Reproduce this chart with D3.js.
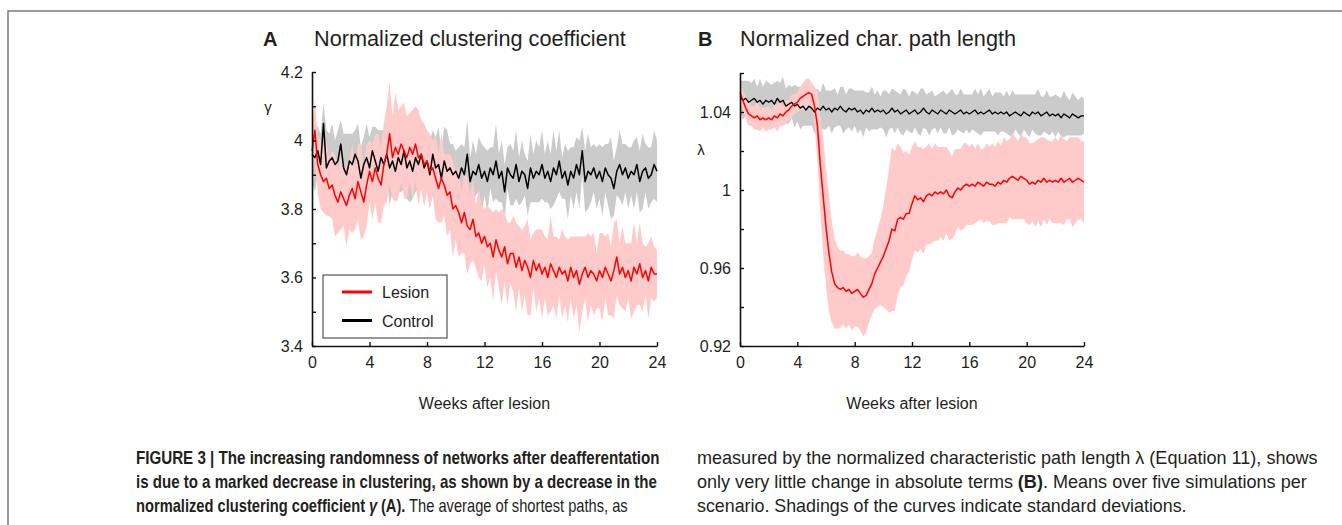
<!DOCTYPE html>
<html><head><meta charset="utf-8">
<script src="https://cdn.jsdelivr.net/npm/d3@7"></script>
<style>
html,body{margin:0;padding:0;background:#fff;}
svg{display:block;font-family:"Liberation Sans",Arial,Helvetica,sans-serif;}
</style></head><body>
<svg id="fig" width="1342" height="525"></svg>
<script>
// Sampling interval of the simulated time series (weeks)
const STEP = 0.2;

// x axis
const weekTicks = [0, 4, 8, 12, 16, 20, 24];

// Panel A: normalized clustering coefficient (gamma)
const gammaTicks = [3.4, 3.5, 3.6, 3.7, 3.8, 3.9, 4.0, 4.1, 4.2];
const gammaTickLabels = ["3.4", "", "3.6", "", "3.8", "", "4", "", "4.2"];

const lesionGammaMean = [
  3.97, 4.03, 3.93, 3.90, 3.88, 3.89, 3.86, 3.87, 3.84, 3.82,
  3.85, 3.83, 3.81, 3.84, 3.86, 3.83, 3.88, 3.85, 3.82, 3.87,
  3.91, 3.88, 3.92, 3.89, 3.87, 3.93, 3.96, 4.02, 3.95, 3.98,
  3.96, 3.99, 3.97, 3.95, 3.98, 3.96, 3.99, 3.95, 3.96, 3.93,
  3.94, 3.91, 3.92, 3.89, 3.86, 3.89, 3.87, 3.84, 3.85, 3.80,
  3.81, 3.79, 3.76, 3.79, 3.75, 3.74, 3.77, 3.72, 3.73, 3.70,
  3.72, 3.69, 3.70, 3.66, 3.71, 3.68, 3.66, 3.69, 3.64, 3.67,
  3.67, 3.63, 3.66, 3.62, 3.65, 3.63, 3.60, 3.65, 3.62, 3.64,
  3.61, 3.63, 3.60, 3.64, 3.62, 3.60, 3.63, 3.61, 3.62, 3.59,
  3.63, 3.60, 3.62, 3.58, 3.61, 3.63, 3.60, 3.62, 3.61, 3.59,
  3.62, 3.60, 3.63, 3.61, 3.59, 3.62, 3.66, 3.61, 3.63, 3.60,
  3.62, 3.59, 3.63, 3.61, 3.64, 3.60, 3.62, 3.59, 3.63, 3.61,
  3.61
];
const lesionGammaSd = [
  0.06, 0.09, 0.08, 0.10, 0.09, 0.11, 0.08, 0.10, 0.12, 0.09,
  0.11, 0.08, 0.12, 0.10, 0.13, 0.09, 0.11, 0.14, 0.10, 0.12,
  0.09, 0.11, 0.10, 0.13, 0.11, 0.12, 0.14, 0.15, 0.12, 0.16,
  0.13, 0.11, 0.14, 0.12, 0.10, 0.13, 0.11, 0.14, 0.10, 0.12,
  0.09, 0.11, 0.08, 0.12, 0.10, 0.13, 0.09, 0.12, 0.11, 0.14,
  0.10, 0.13, 0.09, 0.12, 0.14, 0.10, 0.12, 0.09, 0.13, 0.11,
  0.08, 0.12, 0.10, 0.13, 0.09, 0.11, 0.14, 0.10, 0.12, 0.09,
  0.11, 0.13, 0.09, 0.12, 0.10, 0.14, 0.11, 0.08, 0.12, 0.10,
  0.13, 0.09, 0.11, 0.14, 0.10, 0.12, 0.08, 0.13, 0.10, 0.12,
  0.09, 0.12, 0.10, 0.14, 0.11, 0.09, 0.13, 0.10, 0.12, 0.08,
  0.11, 0.13, 0.09, 0.12, 0.10, 0.14, 0.11, 0.09, 0.12, 0.10,
  0.08, 0.11, 0.13, 0.09, 0.12, 0.10, 0.07, 0.11, 0.09, 0.08,
  0.07
];
const controlGammaMean = [
  3.96, 3.95, 3.97, 3.93, 4.05, 3.92, 3.94, 3.95, 3.93, 3.94,
  3.99, 3.92, 3.90, 3.94, 3.93, 3.96, 3.94, 3.89, 3.93, 3.95,
  3.92, 3.97, 3.94, 3.91, 3.95, 3.93, 3.96, 3.92, 3.94, 3.91,
  3.95, 3.93, 3.97, 3.92, 3.94, 3.91, 3.95, 3.93, 3.96, 3.92,
  3.94, 3.90, 3.96, 3.92, 3.93, 3.89, 3.94, 3.91, 3.92, 3.90,
  3.91, 3.89, 3.92, 3.90, 3.96, 3.88, 3.91, 3.90, 3.93, 3.89,
  3.91, 3.88, 3.92, 3.90, 3.94, 3.89, 3.91, 3.85, 3.92, 3.90,
  3.89, 3.93, 3.88, 3.91, 3.90, 3.86, 3.92, 3.89, 3.91, 3.90,
  3.93, 3.89, 3.91, 3.88, 3.92, 3.90, 3.94, 3.89, 3.91, 3.87,
  3.91, 3.89, 3.93, 3.90, 3.97, 3.88, 3.91, 3.90, 3.92, 3.89,
  3.91, 3.88, 3.92, 3.90, 3.89, 3.86, 3.91, 3.93, 3.90, 3.92,
  3.89, 3.91, 3.90, 3.93, 3.88, 3.91, 3.92, 3.89, 3.90, 3.93,
  3.91
];
const controlGammaSd = [
  0.08, 0.10, 0.07, 0.09, 0.06, 0.11, 0.08, 0.10, 0.07, 0.09,
  0.07, 0.10, 0.12, 0.08, 0.09, 0.07, 0.11, 0.09, 0.08, 0.10,
  0.09, 0.07, 0.10, 0.12, 0.08, 0.10, 0.07, 0.11, 0.09, 0.08,
  0.10, 0.08, 0.11, 0.09, 0.12, 0.08, 0.10, 0.07, 0.09, 0.11,
  0.08, 0.10, 0.07, 0.09, 0.11, 0.08, 0.10, 0.12, 0.07, 0.09,
  0.06, 0.09, 0.07, 0.08, 0.10, 0.07, 0.09, 0.06, 0.08, 0.10,
  0.07, 0.09, 0.06, 0.08, 0.11, 0.07, 0.09, 0.08, 0.06, 0.09,
  0.08, 0.10, 0.07, 0.09, 0.06, 0.08, 0.10, 0.07, 0.09, 0.08,
  0.10, 0.07, 0.09, 0.08, 0.11, 0.07, 0.09, 0.06, 0.08, 0.10,
  0.07, 0.09, 0.08, 0.10, 0.07, 0.09, 0.11, 0.08, 0.07, 0.09,
  0.08, 0.10, 0.07, 0.09, 0.12, 0.08, 0.07, 0.10, 0.09, 0.07,
  0.09, 0.07, 0.10, 0.08, 0.09, 0.11, 0.07, 0.09, 0.08, 0.10,
  0.09
];

// Panel B: normalized characteristic path length (lambda)
const lambdaTicks = [0.92, 0.94, 0.96, 0.98, 1.00, 1.02, 1.04, 1.06];
const lambdaTickLabels = ["0.92", "", "0.96", "", "1", "", "1.04", ""];

const lesionLambdaMean = [
  1.050, 1.046, 1.042, 1.039, 1.038, 1.037, 1.038, 1.036, 1.037, 1.036,
  1.037, 1.036, 1.038, 1.037, 1.039, 1.038, 1.040, 1.041, 1.043, 1.044,
  1.045, 1.047, 1.048, 1.049, 1.050, 1.049, 1.043, 1.033, 1.013, 0.997,
  0.981, 0.968, 0.958, 0.952, 0.950, 0.949, 0.950, 0.948, 0.949, 0.947,
  0.948, 0.949, 0.947, 0.945, 0.946, 0.949, 0.952, 0.957, 0.960, 0.963,
  0.966, 0.970, 0.974, 0.980, 0.979, 0.985, 0.986, 0.985, 0.988, 0.988,
  0.993, 0.997, 0.995, 0.996, 0.994, 0.997, 0.998, 0.997, 0.999, 0.998,
  0.999, 0.998, 1.000, 0.997, 0.996, 0.999, 1.001, 1.000, 1.002, 1.003,
  1.002, 1.003, 1.002, 1.004, 1.003, 1.002, 1.004, 1.003, 1.003, 1.002,
  1.004, 1.003, 1.005, 1.004, 1.006, 1.007, 1.006, 1.005, 1.007, 1.006,
  1.005, 1.003, 1.004, 1.003, 1.005, 1.004, 1.006, 1.004, 1.005, 1.004,
  1.005, 1.004, 1.006, 1.004, 1.005, 1.006, 1.004, 1.005, 1.006, 1.005,
  1.004
];
const lesionLambdaSd = [
  0.004, 0.005, 0.006, 0.006, 0.005, 0.006, 0.007, 0.006, 0.005, 0.006,
  0.006, 0.005, 0.006, 0.007, 0.006, 0.005, 0.006, 0.005, 0.006, 0.005,
  0.005, 0.006, 0.007, 0.008, 0.007, 0.006, 0.010, 0.018, 0.025, 0.030,
  0.030, 0.030, 0.026, 0.023, 0.021, 0.020, 0.019, 0.019, 0.018, 0.019,
  0.018, 0.019, 0.019, 0.020, 0.019, 0.017, 0.016, 0.018, 0.020, 0.022,
  0.026, 0.031, 0.037, 0.042, 0.041, 0.039, 0.036, 0.034, 0.032, 0.030,
  0.029, 0.028, 0.027, 0.026, 0.027, 0.025, 0.026, 0.024, 0.025, 0.024,
  0.023, 0.024, 0.022, 0.023, 0.021, 0.022, 0.020, 0.021, 0.022, 0.021,
  0.020, 0.021, 0.019, 0.020, 0.018, 0.019, 0.020, 0.019, 0.021, 0.020,
  0.021, 0.020, 0.022, 0.021, 0.020, 0.022, 0.021, 0.020, 0.022, 0.021,
  0.022, 0.021, 0.020, 0.022, 0.021, 0.023, 0.021, 0.022, 0.020, 0.021,
  0.022, 0.021, 0.023, 0.022, 0.020, 0.021, 0.023, 0.022, 0.021, 0.020,
  0.021
];
const controlLambdaMean = [
  1.048, 1.046, 1.047, 1.045, 1.046, 1.047, 1.045, 1.046, 1.044, 1.046,
  1.045, 1.046, 1.044, 1.047, 1.045, 1.046, 1.043, 1.044, 1.045, 1.043,
  1.044, 1.042, 1.043, 1.041, 1.043, 1.042, 1.040, 1.042, 1.041, 1.043,
  1.041, 1.042, 1.040, 1.042, 1.041, 1.043, 1.041, 1.040, 1.042, 1.041,
  1.042, 1.040, 1.041, 1.039, 1.041, 1.040, 1.042, 1.040, 1.041, 1.040,
  1.041, 1.039, 1.040, 1.042, 1.040, 1.041, 1.039, 1.040, 1.041, 1.039,
  1.040, 1.041, 1.039, 1.040, 1.042, 1.040, 1.039, 1.041, 1.040, 1.039,
  1.041, 1.040, 1.039, 1.041, 1.040, 1.039, 1.040, 1.041, 1.039, 1.040,
  1.039, 1.040, 1.041, 1.039, 1.040, 1.039, 1.040, 1.041, 1.039, 1.040,
  1.039, 1.040, 1.039, 1.040, 1.038, 1.039, 1.040, 1.039, 1.038, 1.040,
  1.039, 1.038, 1.040, 1.039, 1.040, 1.038, 1.039, 1.040, 1.038, 1.039,
  1.038, 1.039, 1.037, 1.039, 1.038, 1.037, 1.039, 1.038, 1.037, 1.038,
  1.038
];
const controlLambdaSd = [
  0.008, 0.010, 0.009, 0.011, 0.009, 0.010, 0.008, 0.011, 0.009, 0.010,
  0.010, 0.008, 0.011, 0.009, 0.010, 0.012, 0.009, 0.010, 0.008, 0.011,
  0.009, 0.011, 0.010, 0.008, 0.010, 0.009, 0.011, 0.010, 0.009, 0.012,
  0.010, 0.009, 0.011, 0.010, 0.008, 0.010, 0.012, 0.009, 0.010, 0.011,
  0.009, 0.011, 0.010, 0.012, 0.009, 0.010, 0.011, 0.009, 0.010, 0.008,
  0.010, 0.012, 0.009, 0.010, 0.011, 0.009, 0.010, 0.012, 0.010, 0.009,
  0.011, 0.009, 0.010, 0.012, 0.010, 0.009, 0.011, 0.010, 0.008, 0.010,
  0.009, 0.011, 0.010, 0.009, 0.012, 0.010, 0.009, 0.011, 0.010, 0.009,
  0.010, 0.009, 0.011, 0.010, 0.012, 0.009, 0.010, 0.011, 0.009, 0.010,
  0.011, 0.010, 0.009, 0.011, 0.010, 0.012, 0.009, 0.010, 0.011, 0.009,
  0.010, 0.011, 0.009, 0.010, 0.012, 0.010, 0.009, 0.011, 0.010, 0.009,
  0.011, 0.009, 0.010, 0.012, 0.010, 0.009, 0.011, 0.010, 0.009, 0.010,
  0.009
];

const seriesNames = ["Lesion", "Control"];

// ---------------------------------------------------------------------------
const svg = d3.select("#fig");
const TEXT = "#231f20";
const COLORS = {
  Lesion:  {line: "#ff0000", band: "#ffcaca"},
  Control: {line: "#000000", band: "#cbcbcb"}
};

// page frame
svg.append("rect")
  .attr("x", 8).attr("y", 11).attr("width", 1500).attr("height", 700)
  .attr("fill", "none").attr("stroke", "#7a7a7a").attr("stroke-width", 1.5);

function drawPanel(cfg) {
  const x = d3.scaleLinear().domain([0, 24]).range(cfg.xRange);
  const y = d3.scaleLinear().domain(cfg.yDomain).range(cfg.yRange);
  const g = svg.append("g");

  const rows = s => s.mean.map((m, i) => ({w: i * STEP, m, sd: s.sd[i]}));
  const area = d3.area().x(d => x(d.w)).y0(d => y(d.m - d.sd)).y1(d => y(d.m + d.sd));
  const line = d3.line().x(d => x(d.w)).y(d => y(d.m));

  const control = rows(cfg.control), lesion = rows(cfg.lesion);

  g.append("path").attr("d", area(control)).attr("fill", COLORS.Control.band);
  g.append("path").attr("d", area(lesion)).attr("fill", COLORS.Lesion.band);
  g.append("path").attr("d", line(control)).attr("fill", "none")
    .attr("stroke", COLORS.Control.line).attr("stroke-width", cfg.lw[1]).attr("stroke-linejoin", "round");
  g.append("path").attr("d", line(lesion)).attr("fill", "none")
    .attr("stroke", COLORS.Lesion.line).attr("stroke-width", cfg.lw[0]).attr("stroke-linejoin", "round");

  // axes, ticks pointing inward
  const xAxis = d3.axisBottom(x).tickValues(weekTicks).tickFormat(d3.format("d"))
    .tickSizeInner(-4).tickSizeOuter(0).tickPadding(11);
  const yAxis = d3.axisLeft(y).tickValues(cfg.yTicks)
    .tickFormat((d, i) => cfg.yLabels[i])
    .tickSizeInner(-4).tickSizeOuter(0).tickPadding(9);

  const gx = g.append("g").attr("transform", `translate(0,${cfg.yRange[0]})`).call(xAxis);
  const gy = g.append("g").attr("transform", `translate(${cfg.xRange[0]},0)`).call(yAxis);
  [gx, gy].forEach(a => {
    a.select(".domain").attr("stroke", "#111").attr("stroke-width", 1.6);
    a.selectAll(".tick line").attr("stroke", "#111").attr("stroke-width", 1.4);
    a.selectAll(".tick text").attr("fill", TEXT)
      .style("font-family", '"Liberation Sans",Arial,sans-serif').style("font-size", "16px");
  });

  // panel letter and title
  g.append("text").attr("x", cfg.letterX).attr("y", 46).text(cfg.letter)
    .attr("fill", TEXT).style("font-size", "20px").style("font-weight", "bold");
  g.append("text").attr("x", cfg.titleX).attr("y", 46).text(cfg.title)
    .attr("fill", TEXT).style("font-size", "21.7px");

  // axis names
  g.append("text").attr("x", cfg.symX).attr("y", cfg.symY).text(cfg.symbol)
    .attr("fill", TEXT).attr("text-anchor", "middle").style("font-size", "15px");
  g.append("text").attr("x", (cfg.xRange[0] + cfg.xRange[1]) / 2).attr("y", 409)
    .text("Weeks after lesion").attr("fill", TEXT).attr("text-anchor", "middle").style("font-size", "16px");
  return g;
}

const gA = drawPanel({
  letter: "A", letterX: 263, title: "Normalized clustering coefficient", titleX: 314,
  xRange: [312, 657], yRange: [346, 72], yDomain: [3.4, 4.2],
  yTicks: gammaTicks, yLabels: gammaTickLabels,
  symbol: "γ", symX: 268, symY: 112,
  lesion: {mean: lesionGammaMean, sd: lesionGammaSd},
  control: {mean: controlGammaMean, sd: controlGammaSd},
  lw: [1.5, 1.5]
});

drawPanel({
  letter: "B", letterX: 698, title: "Normalized char. path length", titleX: 740,
  xRange: [740, 1084], yRange: [346, 73], yDomain: [0.92, 1.06],
  yTicks: lambdaTicks, yLabels: lambdaTickLabels,
  symbol: "λ", symX: 701, symY: 155,
  lesion: {mean: lesionLambdaMean, sd: lesionLambdaSd},
  control: {mean: controlLambdaMean, sd: controlLambdaSd},
  lw: [1.5, 1.3]
});

// legend in panel A
const legend = gA.append("g");
legend.append("rect").attr("x", 323).attr("y", 275).attr("width", 124).attr("height", 63)
  .attr("fill", "#fff").attr("stroke", "#333").attr("stroke-width", 1);
seriesNames.forEach((name, i) => {
  const yy = 292 + i * 28.5;
  legend.append("line").attr("x1", 342).attr("x2", 372).attr("y1", yy).attr("y2", yy)
    .attr("stroke", COLORS[name].line).attr("stroke-width", 3);
  legend.append("text").attr("x", 382).attr("y", yy + 6).text(name)
    .attr("fill", TEXT).style("font-size", "16px");
});

// figure caption: each run of text is its own element inside a line group that is
// condensed horizontally so the line fills its column width
const captionLeft = [
  [["b", "FIGURE 3 | The increasing randomness of networks after deafferentation"]],
  [["b", "is due to a marked decrease in clustering, as shown by a decrease in the"]],
  [["b", "normalized clustering coefficient"], ["bi", "γ"], ["b", "(A)."], ["r", "The average of shortest paths, as"]]
];
const captionRight = [
  [["r", "measured by the normalized characteristic path length λ (Equation 11), shows"]],
  [["r", "only very little change in absolute terms"], ["b", "(B)"], ["r", ". Means over five simulations per"]],
  [["r", "scenario. Shadings of the curves indicate standard deviations."]]
];
// gap (in word spaces) before each run
const captionLeftGaps = [[0], [0], [0, 1, 1, 1]];
const captionRightGaps = [[0], [0, 1, 0], [0]];
const leftWidths = [524, 521, 492];
const rightWidths = [621, 610, 490];

function caption(lines, gaps, x0, widths) {
  const SIZE = 18, SPACE = SIZE * 0.25;
  lines.forEach((parts, i) => {
    const yy = 464 + i * 24;
    const lineG = svg.append("g");
    let cx = 0;
    parts.forEach(([style, s], j) => {
      cx += gaps[i][j] * SPACE;
      const t = lineG.append("text").attr("x", cx).attr("y", 0).attr("fill", TEXT)
        .style("font-family", '"Liberation Sans",Arial,sans-serif')
        .style("font-size", SIZE + "px")
        .style("font-weight", style[0] === "b" ? "bold" : "normal")
        .style("font-style", style === "bi" ? "italic" : "normal")
        .text(s);
      cx += t.node().getComputedTextLength();
    });
    const k = widths[i] / cx;
    lineG.attr("transform", `translate(${x0},${yy}) scale(${k},1)`);
  });
}
caption(captionLeft, captionLeftGaps, 136, leftWidths);
caption(captionRight, captionRightGaps, 697, rightWidths);
</script>
</body></html>
